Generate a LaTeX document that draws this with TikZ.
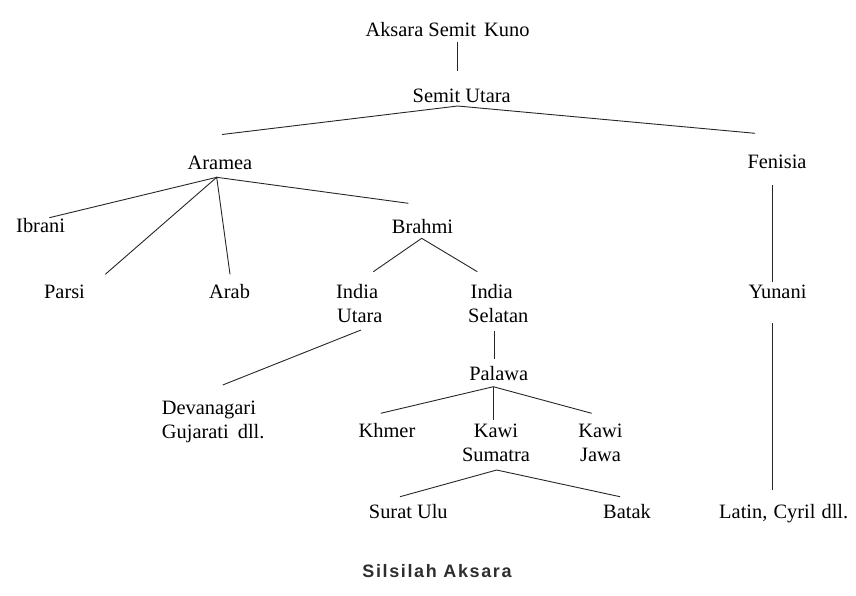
\documentclass[tikz,border=0pt]{standalone}
\usepackage{fontspec}
\setmainfont{Liberation Serif}
\newfontfamily\capfont[LetterSpace=9]{Liberation Sans}
\begin{document}
\begin{tikzpicture}[x=1pt,y=-1pt,
  lbl/.style={anchor=base,inner sep=0pt,font=\fontsize{20.4}{24.5}\selectfont,text=black},
  lblL/.style={lbl,anchor=base west,align=left},
  lblC/.style={lbl,align=center},
  link/.style={draw=black!85,line width=0.9pt}]
\useasboundingbox (0,0) rectangle (856,595);
\node[lbl] (ask) at (447.5,36.7) {Aksara Semit\hspace{3pt} Kuno};
\node[lbl] (semit) at (461.7,102.3) {Semit Utara};
\node[lbl] (aramea) at (220,169) {Aramea};
\node[lbl] (fenisia) at (777,168.3) {Fenisia};
\node[lbl] (ibrani) at (40.6,232.7) {Ibrani};
\node[lbl] (brahmi) at (422.5,233) {Brahmi};
\node[lbl] (parsi) at (64.5,298) {Parsi};
\node[lbl] (arab) at (229.6,298) {Arab};
\node[lblL] (iutara) at (336,322.7) {India\\\hspace{1pt}Utara};
\node[lblL] (iselatan) at (468,322.7) {\hspace{2.5pt}India\\Selatan};
\node[lblL] (deva) at (161.7,438.8) {Devanagari\\Gujarati\hspace{4pt} dll.};
\node[lbl] (palawa) at (498.7,380.7) {Palawa};
\node[lbl] (khmer) at (387,437.3) {Khmer};
\node[lblC] (ksum) at (496,461.7) {Kawi\\Sumatra};
\node[lblC] (kjawa) at (600.5,461.7) {Kawi\\Jawa};
\node[lbl] (surat) at (408.3,518) {Surat Ulu};
\node[lbl] (batak) at (627,518) {Batak};
\node[lbl] (yunani) at (777.5,298.3) {Yunani};
\node[lbl] (latin) at (783.7,518) {Latin,\hspace{1pt} Cyril\hspace{1pt} dll.};
\node[anchor=base,inner sep=0pt,font=\capfont\bfseries\fontsize{18}{20}\selectfont,text=black!82] (cap) at (437,577.3) {Silsilah Aksara};
% connectors
\draw[link] ([shift={(10.2,5.6)}]ask.base) -- ([shift={(-4,-31.3)}]semit.base);
\draw[link] ([shift={(2,-34.5)}]aramea.base) -- ([shift={(-4,3.7)}]semit.base) -- ([shift={(-22,-35)}]fenisia.base);
\draw[link] ([shift={(8.7,-15)}]ibrani.base) -- ([shift={(-3.3,8.3)}]aramea.base) -- ([shift={(-14.2,-29.7)}]brahmi.base);
\draw[link] ([shift={(40.8,-23.7)}]parsi.base) -- ([shift={(-3.3,8.3)}]aramea.base) -- ([shift={(0.4,-23.7)}]arab.base);
\draw[link] ([shift={(37.3,-51)}]iutara.base west) -- ([shift={(-0.8,5.3)}]brahmi.base) -- ([shift={(9.3,-51)}]iselatan.base west);
\draw[link] ([shift={(25,7.3)}]iutara.base west) -- ([shift={(61,-53.8)}]deva.base west);
\draw[link] ([shift={(26,8.3)}]iselatan.base west) -- ([shift={(-4.7,-21.7)}]palawa.base);
\draw[link] ([shift={(-6.3,-24)}]khmer.base) -- ([shift={(-5.4,6)}]palawa.base) -- ([shift={(-8.8,-48.4)}]kjawa.base);
\draw[link] ([shift={(-5.4,6)}]palawa.base) -- ([shift={(-2.7,-41.7)}]ksum.base);
\draw[link] ([shift={(-8.3,-21.3)}]surat.base) -- ([shift={(0.7,8.3)}]ksum.base) -- ([shift={(-7,-21.3)}]batak.base);
\draw[link] ([shift={(-4.3,16.7)}]fenisia.base) -- ([shift={(-4.8,-16.6)}]yunani.base);
\draw[link] ([shift={(-4.8,25)}]yunani.base) -- ([shift={(-11,-28)}]latin.base);
\end{tikzpicture}
\end{document}
